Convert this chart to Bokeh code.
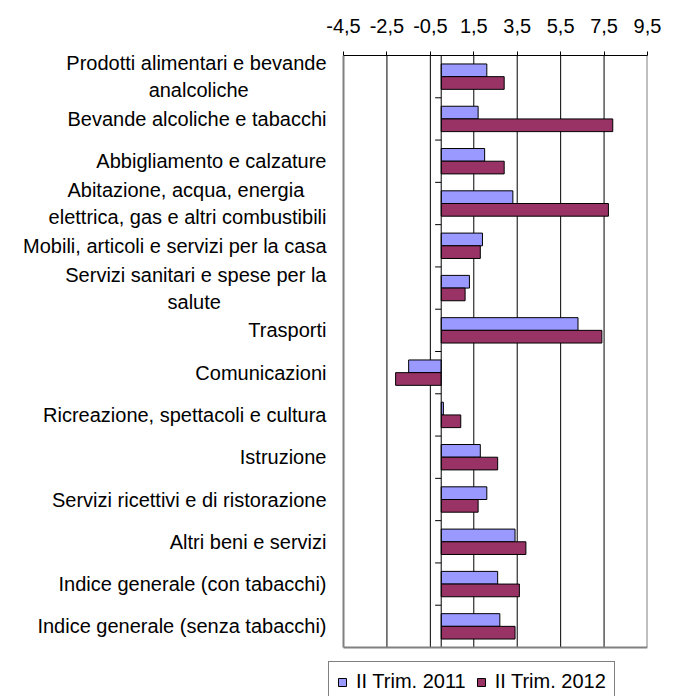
from bokeh.plotting import figure
from bokeh.models import (FixedTicker, Range1d, Legend, LegendItem,
                          ColumnDataSource)
from bokeh.embed import file_html
from bokeh.resources import INLINE

# ---------------- data ----------------
NB = "\u00a0"
categories = [
    "Prodotti alimentari e bevande\nanalcoliche" + NB * 14,
    "Bevande alcoliche e tabacchi",
    "Abbigliamento e calzature",
    "Abitazione, acqua, energia" + NB * 4 + "\nelettrica, gas e altri combustibili",
    "Mobili, articoli e servizi per la casa",
    "Servizi sanitari e spese per la\nsalute" + NB * 19,
    "Trasporti",
    "Comunicazioni",
    "Ricreazione, spettacoli e cultura",
    "Istruzione",
    "Servizi ricettivi e di ristorazione",
    "Altri beni e servizi",
    "Indice generale (con tabacchi)",
    "Indice generale (senza tabacchi)",
]
series_names = ["II Trim. 2011", "II Trim. 2012"]
values_2011 = [2.1, 1.7, 2.0, 3.3, 1.9, 1.3, 6.3, -1.5, 0.1, 1.8, 2.1, 3.4, 2.6, 2.7]
values_2012 = [2.9, 7.9, 2.9, 7.7, 1.8, 1.1, 7.4, -2.1, 0.9, 2.6, 1.7, 3.9, 3.6, 3.4]
x_ticks = [-4.5, -2.5, -0.5, 1.5, 3.5, 5.5, 7.5, 9.5]
x_tick_labels = ["-4,5", "-2,5", "-0,5", "1,5", "3,5", "5,5", "7,5", "9,5"]

FONT = "Liberation Sans"
FS = "20px"
BLUE = "#9999FF"
RED = "#993366"
GRAY = "#808080"

n = len(categories)
centers = [i + 0.5 for i in range(n)]
bar_h = 0.3
off = 0.15

# layout (pixels): plot area from x=343..647, y=55..647; the frame is extended
# to the left/bottom so that the legend below the plot area is not clipped
W, H = 678, 696
left_px, plot_left, plot_right, top_px, plot_bottom = 328, 343, 647, 55, 647
span = x_ticks[-1] - x_ticks[0]
ppu = (plot_right - plot_left) / span
x_start = x_ticks[0] - (plot_left - left_px) / ppu
y_end = n * (H - top_px) / (plot_bottom - top_px)

p = figure(width=W, height=H, output_backend="svg", toolbar_location=None,
           x_range=Range1d(x_start, x_ticks[-1]), y_range=Range1d(y_end, 0),
           x_axis_location="above", y_axis_location="left",
           min_border_left=left_px, min_border_right=W - plot_right,
           min_border_top=top_px, min_border_bottom=0)
p.outline_line_color = None
p.background_fill_color = "white"
p.border_fill_color = "white"
p.xgrid.grid_line_color = None
p.ygrid.grid_line_color = None

# top x axis
xa = p.xaxis[0]
xa.ticker = FixedTicker(ticks=x_ticks)
xa.bounds = (x_ticks[0], x_ticks[-1])
xa.major_label_overrides = {t: l for t, l in zip(x_ticks, x_tick_labels)}
xa.axis_line_color = "black"
xa.axis_line_width = 1
xa.major_tick_line_color = "black"
xa.major_tick_out = 4
xa.major_tick_in = 0
xa.minor_tick_line_color = None
xa.major_label_text_font = FONT
xa.major_label_text_font_size = FS
xa.major_label_text_color = "black"
xa.major_label_standoff = 19

# left category labels
ya = p.yaxis[0]
ya.ticker = FixedTicker(ticks=centers)
ya.major_label_overrides = {c: l for c, l in zip(centers, categories)}
ya.axis_line_color = None
ya.major_tick_line_color = None
ya.minor_tick_line_color = None
ya.major_tick_out = 0
ya.major_tick_in = 0
ya.major_label_standoff = 17 - (plot_left - left_px)
ya.major_label_text_font = FONT
ya.major_label_text_font_size = FS
ya.major_label_text_color = "black"
ya.major_label_text_line_height = 1.23

# vertical gridlines (inner ticks) limited to the plot area
inner = x_ticks[1:-1]
p.segment(x0=inner, x1=inner, y0=[0] * len(inner), y1=[n] * len(inner),
          line_color="black", line_width=1)

# bars
src = ColumnDataSource(dict(
    y1=[c - off for c in centers], v1=values_2011,
    y2=[c + off for c in centers], v2=values_2012,
    z=[0] * n))
r1 = p.hbar(y="y1", left="z", right="v1", height=bar_h, source=src,
            fill_color=BLUE, line_color="black", line_width=1)
r2 = p.hbar(y="y2", left="z", right="v2", height=bar_h, source=src,
            fill_color=RED, line_color="black", line_width=1)

# category axis at zero with ticks at category boundaries
bounds = list(range(n + 1))
p.segment(x0=[0], x1=[0], y0=[0], y1=[n], line_color="black", line_width=1)
p.segment(x0=[-0.28] * len(bounds), x1=[0] * len(bounds), y0=bounds, y1=bounds,
          line_color="black", line_width=1)

# gray plot-area border (left, right, bottom)
p.segment(x0=[x_ticks[0], x_ticks[-1], x_ticks[0]],
          x1=[x_ticks[0], x_ticks[-1], x_ticks[-1]],
          y0=[0, 0, n], y1=[n, n, n], line_color=GRAY, line_width=2)

legend = Legend(items=[LegendItem(label=series_names[0], renderers=[r1]),
                       LegendItem(label=series_names[1], renderers=[r2])],
                orientation="horizontal", location=(0, -6),
                glyph_width=10, glyph_height=10, label_standoff=9, spacing=10,
                padding=8, margin=0,
                label_text_font=FONT, label_text_font_size=FS,
                label_text_color="black",
                border_line_color="black", border_line_width=1,
                background_fill_color="white", background_fill_alpha=1)
p.add_layout(legend, "center")

open("out.html", "w").write(file_html(p, INLINE))
